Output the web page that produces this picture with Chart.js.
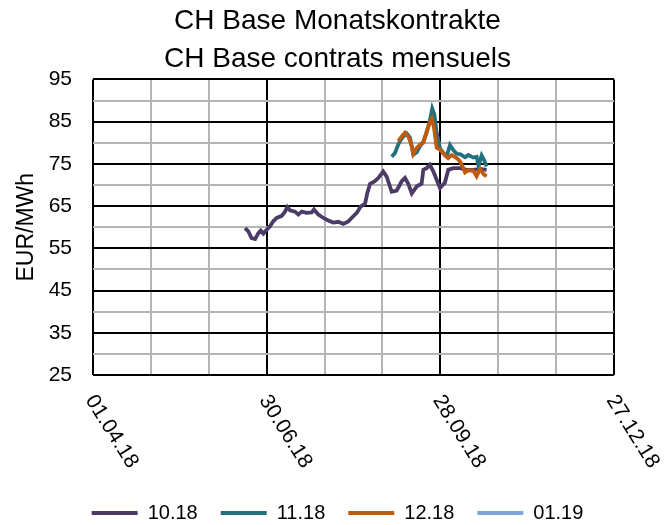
<!DOCTYPE html>
<html>
<head>
<meta charset="utf-8">
<script src="https://cdn.jsdelivr.net/npm/chart.js@4.4.1/dist/chart.umd.min.js"></script>
<style>
  html, body { margin: 0; padding: 0; background: #fff; }
</style>
</head>
<body>
<canvas id="priceChart" width="665" height="525"></canvas>
<script>
// x values are days counted from 01.04.18
const dateTickDays = [0, 90, 180, 270];
const dateTickLabels = ["01.04.18", "30.06.18", "28.09.18", "27.12.18"];
const seriesNames = ["10.18", "11.18", "12.18", "01.19"];
const seriesColors = ["#4b3b66", "#23707e", "#c05a0e", "#7ea6d9"];

const days1018 = [78.8, 80.5, 82.2, 84.0, 85.7, 86.9, 88.3, 90.0, 91.7, 93.4, 95.2, 97.8, 99.5, 100.7, 102.1,
  104.7, 106.4, 108.2, 110.7, 113.3, 114.5, 116.8, 119.4, 121.9, 124.5, 127.1, 129.7, 132.3, 134.9, 136.7,
  138.7, 141.0, 142.2, 143.6, 146.1, 147.9, 150.4, 152.2, 154.8, 157.4, 160.0, 161.7, 163.4, 165.2, 167.8,
  170.3, 171.2, 172.9, 174.6, 176.4, 178.3, 179.8, 182.4, 184.1, 186.7, 190.2, 193.7, 197.1, 200.6, 204.0];
const prices1018 = [59.8, 59.0, 57.4, 57.2, 58.6, 59.2, 58.5, 59.4, 60.2, 61.4, 62.2, 62.7, 63.7, 64.8, 64.0,
  63.7, 63.0, 63.7, 63.4, 63.5, 64.2, 63.0, 62.2, 61.6, 61.1, 61.3, 60.8, 61.4, 62.6, 63.4,
  64.9, 65.6, 68.2, 70.3, 70.9, 71.7, 73.2, 72.0, 68.4, 68.7, 70.9, 71.7, 70.3, 68.0, 69.7,
  70.3, 73.6, 74.0, 74.8, 73.2, 71.0, 69.3, 70.6, 73.6, 74.0, 74.0, 73.6, 73.6, 73.8, 73.6];

const days1118 = [154.8, 156.5, 158.2, 159.1, 160.8, 162.6, 164.3, 166.0, 167.8, 169.5, 171.2, 172.9, 174.7,
  175.8, 176.9, 178.1, 179.8, 181.5, 183.3, 185.0, 186.7, 188.5, 190.2, 192.8, 194.5, 197.1, 198.8, 199.8,
  201.4, 202.6, 204.0];
const prices1118 = [76.7, 77.6, 79.6, 80.4, 81.5, 82.2, 81.2, 77.2, 77.8, 79.2, 80.3, 82.4, 85.5,
  88.1, 86.7, 82.4, 78.7, 77.6, 76.8, 79.5, 78.3, 77.4, 77.3, 76.6, 77.1, 76.5, 76.7, 74.6,
  77.0, 76.0, 74.4];

const days1218 = [158.2, 160.0, 161.7, 163.4, 165.2, 166.0, 167.8, 169.5, 171.2, 172.9, 174.7, 175.5, 176.7,
  178.1, 179.8, 182.4, 184.1, 185.9, 188.5, 190.2, 191.8, 192.8, 194.5, 197.1, 198.8, 200.6, 202.6, 204.0];
const prices1218 = [80.4, 81.5, 82.4, 81.5, 79.2, 77.4, 78.8, 79.6, 80.0, 82.7, 85.0, 85.7, 83.6,
  78.8, 78.4, 77.0, 76.4, 77.1, 76.4, 75.6, 74.1, 73.0, 73.5, 73.4, 72.1, 73.8, 72.5, 72.1];

// 01.19 has no values in the period shown
const days0119 = [];
const prices0119 = [];

const allDays = [days1018, days1118, days1218, days0119];
const allPrices = [prices1018, prices1118, prices1218, prices0119];

const fontFamily = "'Liberation Sans', Arial, sans-serif";
const gridGray = "#b5b5b5";

// rotated date labels under the x axis
const dateLabelPlugin = {
  id: "dateLabels",
  afterDraw(chart) {
    const ctx = chart.ctx;
    const xScale = chart.scales.x;
    ctx.save();
    ctx.font = "21px " + fontFamily;
    ctx.fillStyle = "#000";
    ctx.textAlign = "left";
    ctx.textBaseline = "middle";
    dateTickDays.forEach((d, i) => {
      const px = xScale.getPixelForValue(d);
      ctx.save();
      ctx.translate(px - 3, chart.chartArea.bottom + 22);
      ctx.rotate(58 * Math.PI / 180);
      ctx.fillText(dateTickLabels[i], 0, 0);
      ctx.restore();
    });
    ctx.restore();
  }
};

const datasets = seriesNames.map((name, i) => ({
  label: name,
  data: allDays[i].map((d, j) => ({ x: d, y: allPrices[i][j] })),
  borderColor: seriesColors[i],
  backgroundColor: seriesColors[i],
  borderWidth: 3.8,
  pointRadius: 0,
  tension: 0,
  order: -i
}));

const ctx = document.getElementById("priceChart").getContext("2d");
const priceChart = new Chart(ctx, {
  type: "line",
  data: { datasets },
  plugins: [dateLabelPlugin],
  options: {
    responsive: false,
    animation: false,
    devicePixelRatio: 1,
    layout: { padding: { left: 10, right: 0, top: 0, bottom: -8 } },
    plugins: {
      tooltip: { enabled: false },
      title: {
        display: true,
        text: ["CH Base Monatskontrakte", "CH Base contrats mensuels"],
        color: "#000",
        font: { family: fontFamily, size: 28, weight: "normal", lineHeight: 1.33 },
        padding: { top: 3, bottom: 2 }
      },
      legend: {
        position: "bottom",
        labels: {
          color: "#000",
          font: { family: fontFamily, size: 20 },
          boxWidth: 46,
          boxHeight: 4,
          padding: 23,
          generateLabels(chart) {
            return Chart.defaults.plugins.legend.labels.generateLabels(chart)
              .map(item => ({ ...item, lineWidth: 0 }))
              .sort((a, b) => a.datasetIndex - b.datasetIndex);
          }
        }
      }
    },
    scales: {
      x: {
        type: "linear",
        min: 0,
        max: 270,
        ticks: { display: false, stepSize: 30, autoSkip: false },
        border: { display: false },
        grid: {
          drawTicks: false,
          lineWidth: 2,
          color: c => (c.tick && c.tick.value % 90 === 0 ? "#000" : gridGray)
        },
        afterFit(scale) { scale.height = 105; }
      },
      y: {
        min: 25,
        max: 95,
        ticks: {
          stepSize: 5,
          autoSkip: false,
          maxTicksLimit: 20,
          padding: 21,
          color: "#000",
          font: { family: fontFamily, size: 21 },
          callback: v => ((v - 25) % 10 === 0 ? v : "")
        },
        border: { display: false },
        grid: {
          drawTicks: false,
          lineWidth: 2,
          color: c => (c.tick && (c.tick.value - 25) % 10 === 0 ? "#000" : gridGray)
        },
        title: {
          display: true,
          text: "EUR/MWh",
          color: "#000",
          font: { family: fontFamily, size: 23 },
          padding: { top: 3, bottom: 0 }
        },
        afterFit(scale) { scale.width = 83; }
      },
      // empty axis on the right keeps the plot narrower than the legend and title
      yRight: {
        position: "right",
        display: true,
        min: 25,
        max: 95,
        ticks: { display: false },
        border: { display: false },
        grid: { display: false, drawTicks: false },
        afterFit(scale) { scale.width = 51; }
      }
    }
  }
});
</script>
</body>
</html>
